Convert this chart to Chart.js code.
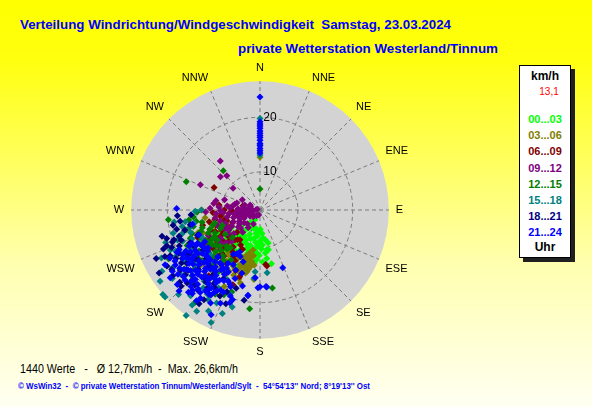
<!DOCTYPE html>
<html>
<head>
<meta charset="utf-8">
<script src="https://cdn.jsdelivr.net/npm/chart.js@4.4.1/dist/chart.umd.min.js"></script>
<style>
  html, body { margin:0; padding:0; }
  body { width:592px; height:407px; overflow:hidden; position:relative;
    background: linear-gradient(to bottom, #ffff00 0%, #ffff10 15%, #ffff60 40%, #ffffb0 65%, #fffff2 100%);
    font-family: "Liberation Sans", Arial, sans-serif; }
  .t { position:absolute; white-space:nowrap; transform-origin: 0 50%; }
  #chartBox { position:absolute; left:60px; top:61px; width:400px; height:298px; }
  #legend { position:absolute; left:519px; top:65px; width:50px; height:191px; background:#fff;
    border:1px solid #000; box-shadow: 4px 4px 0 #202020; }
  #legend div { position:absolute; left:0; width:50px; text-align:center; line-height:14px; height:14px; }
</style>
</head>
<body>
<div class="t" id="title1" data-w="431" style="left:20px; top:17px; font-size:13.3px; font-weight:bold; color:#0000ff; line-height:16px;">Verteilung Windrichtung/Windgeschwindigkeit&nbsp; Samstag, 23.03.2024</div>
<div class="t" id="title2" data-w="260" style="left:238px; top:41px; font-size:13.3px; font-weight:bold; color:#0000ff; line-height:16px;">private Wetterstation Westerland/Tinnum</div>
<div id="chartBox"><canvas id="c"></canvas></div>
<div id="legend"></div>
<div class="t" id="foot1" data-w="218" style="left:20px; top:362px; font-size:12px; color:#000; line-height:14px;">1440 Werte &nbsp; - &nbsp; Ø 12,7km/h &nbsp;- &nbsp;Max. 26,6km/h</div>
<div class="t" id="foot2" data-w="352" style="left:18px; top:381px; font-size:9px; font-weight:bold; color:#0000ff; line-height:11px;">© WsWin32 &nbsp;- &nbsp;© private Wetterstation Tinnum/Westerland/Sylt &nbsp;- &nbsp;54°54'13'' Nord; 8°19'13'' Ost</div>
<script>
// ---------- data ----------
const DIR_LABELS = ['N','NNE','NE','ENE','E','ESE','SE','SSE','S','SSW','SW','WSW','W','WNW','NW','NNW'];
const TICK_VALUES = [10, 20];
const R_MIN = 3.07;
const R_MAX = 26.6;
const SLOT_LABELS = ['00...03','03...06','06...09','09...12','12...15','15...18','18...21','21...24'];
const SLOT_COLORS = ['#00ff00','#808000','#800000','#800080','#008000','#008080','#000080','#0000ff'];

// [direction in degrees, speed in km/h]
const slot00_03 = [[174,8.2],[173,11],[176,9.5],[178,10.2],[172,12],[180,8.8],[183,9.6],[185,10.8],[188,9],[189,11.5],[192,8.4],[195,9.8],[197,10.6],[199,10.4],[200,12.2],[203,7.9],[205,9.1],[207,11.3],[209,6.8],[210,8.6],[212,10.1],[214,12.4],[216,7.6],[217,6.1],[218,9.3],[219,11.6],[220,13.2],[221,12.8],[222,8.2],[223,10.4],[224,14.1],[225,10.8],[226,12],[227,9],[228,13.6],[229,11.1],[230,7.5],[232,12.6],[234,10],[236,13.8],[238,9.2],[240,11.8],[168,13.1],[170,10.4],[177,12.6],[186,12.8],[194,13.5],[202,14.2],[211,13.9],[215,15.2],[213,5.6],[208,5.1],[200,6.6],[190,7.4],[182,7],[166,9.3],[168,10.5],[229,13.4],[233,14.5],
  [181,11.4],[184,12.2],[187,10.1],[191,10.9],[193,11.9],[196,11.3],[198,8.6],[201,9.7],[204,11],[206,12.8],[208,9.9],[211,11.8],[213,8.9],[215,10.9],[217,12.3],[219,8.5],[221,10.1],[223,12.2],[225,9.4],[227,11.5],[170,8.6],[175,7.4],[179,6.6],[186,7.9],[193,6.5]];
const slot03_06 = [[190,10.5],[192,12],[194,11.2],[196,12.9],[198,13.4],[200,13.7],[201,12.3],[193,13.8],[189,12.6],[195,14.5],[197,11.8],[199,15],[191,14.1],[186,13.2],[195,16.9],[197,16.2],[203,14.8],[205,13],[207,15.6],[209,12.4],[211,16.3],[213,14.2],[215,13.1],[217,17.2],[219,15.5],[221,11.9],[223,16.8],[225,14.6],[227,18.1],[229,12.8],[231,15.9],[235,14],[240,17.5],[245,12.2],[250,15.1],[258,9.8],[265,11.4],[270,13.7],[275,8.6],[0,12.7],[185,15.8],[205,18.5],[215,19.4],[191,13.2],[194,12.4],[196,13.6],[192,14.6],[198,12.2],
  [188,11.5],[190,13.7],[193,14.9],[197,13],[199,14.1],[202,15.9],[204,12.2],[206,14.4],[210,13.9],[214,15.6],[218,12.6],[222,14.1],[226,16.1],[230,13.6],[234,17],[238,15.5],[242,13.3],[248,14.3],[255,12.4],[262,13.2]];
const slot06_09 = [[296,12.4],[277,10.6],[265,10],[258,11.5],[252,9.4],[248,12.8],[245,8.6],[242,11],[240,13.6],[238,9.8],[236,12.2],[234,14.4],[232,10.6],[230,11.9],[228,13],[226,8.9],[224,12.5],[222,15.1],[220,10.2],[218,13.8],[216,11.4],[214,9.6],[212,14.6],[210,12.8],[208,16.2],[206,13.4],[204,10.9],[202,15],[197,15.8],[174,13.1],[173,13.4],[250,6.5],[260,7.2],[268,8.1],[255,13.9],[246,15.5],[236,16.8],[228,17.4],[218,18.3],[200,17.6],[284,6.3],
  [229,10.3],[233,12.8],[237,11.3],[241,9.5],[244,12.1],[247,10.3],[251,11.6],[254,9.9],[257,12.6],[261,10.4],[264,8.7],[267,11.7],[270,9.6],[239,14.9],[231,14.2],[225,11.2],[221,13.6],[217,9.9],[213,12.2],[209,10.4]];
const slot09_12 = [[321,14.6],[316,11.8],[310,12.5],[309,9.4],[293,14.9],[282,11.3],[287,7.5],[272,12.2],[274,10.6],[277,9.1],[270,4.5],[275,3.8],[256,5.3],[264,6.7],[243,6.3],[297,5.1],[261,7.8],[274,8.5],[280,6.2],[268,5.6],[262,4.4],[250,5.8],[252,7.2],[246,8.4],[258,9.2],[266,9.8],[255,10.6],[248,11.2],[240,9],[236,7.6],[233,10.3],[230,12.4],[228,9.5],[226,11.7],[238,12.9],[244,13.6],[235,14.5],[242,10.4],[254,8.1],[260,11.4],[286,9.8],[290,4.9],[300,6.8],[268,13],[225,13.3],[222,10.8],[220,14.2],[232,8.1],[245,4.6],[238,5.2],[285,3.6],[278,11.6],[195,4],[210,4.3],[225,4.8],
  [241,7.4],[244,9.9],[247,6.9],[249,9.8],[251,11.3],[253,6.2],[257,7],[259,5.4],[263,8.8],[265,11.1],[267,7.3],[269,10.3],[271,6.1],[273,7.1],[276,5.2],[279,8.1],[283,7.8],[288,6],[234,11.9],[237,9.9],[231,6.8],[227,7.9],[223,6.5],[218,8.2],[214,6.9],[205,5.9]];
const slot12_15 = [[0,6.9],[317,12.9],[291,17.5],[264,19.9],[264,15.3],[262,16.2],[242,22],[171,17.5],[199,18.9],[215,23.6],[220,12.4],[222,14.8],[224,13.3],[226,16.1],[228,12.9],[230,15.2],[232,17.4],[234,13.8],[236,16.5],[238,14.1],[240,12.6],[242,15.8],[244,17.9],[246,13.4],[248,16.8],[250,14.6],[252,12.1],[245,11],[235,10.8],[225,10.2],[218,11.8],[216,14.4],[214,16.6],[212,18.4],[210,13.6],[208,20.5],[205,17.2],[232,20.6],[228,19.3],[238,19.8],[255,17.1],[258,13.9],[186,21.2],[203,19.9],[248,10.5],[268,14.6],
  [219,13.9],[221,16.4],[223,12.1],[225,15.1],[227,14.2],[229,17.1],[231,13.4],[233,15.9],[235,12.6],[237,17.6],[239,13.2],[241,14.4],[243,12.3],[247,15.1],[249,12.9],[251,16.2],[253,14.1],[256,15.6],[260,14.9],[254,11.7],[244,14.9],[236,14.2]];
const slot15_18 = [[229,26.6],[234.5,25.5],[227.5,26.6],[215,26.6],[203.5,25.5],[236.5,22.3],[246,21],[255,19.5],[251,21.3],[242.5,19.7],[215.5,24.4],[210,22],[212,21.2],[184.5,14.4],[173.5,14.6],[0,19.8],[0,15],[0,13.1],[185,15.6],[224,24.5],[220,22.6],[232,23.4],[238,24.2],[244,23.1],[226,20.4],[218,19.6],[222,17.8],[230,18.5],[236,19.9],[240,17.1],[248,18.3],[252,16.4],[258,17.6],[208,19.2],[205,21.8],[200,23.2],[214,17.4],[211,15.9],[234,16.2],[228,15.3],[245,14.8],[262,18.9],[270,13.8],[196,21.5],[241,20.8],[269,14.9],
  [233,18.7],[237,17.3],[241,18.4],[244,20.2],[247,16.6],[250,19.1],[253,18],[256,16.3],[259,15.4],[261,16.9],[231,21.7],[227,18.9],[223,21.4],[219,23.2],[216,20.7],[207,23.8],[212,24.9],[200,19.3],[206,17.1]];
const slot18_21 = [[249,21.3],[255,17.3],[233,21.3],[233,23],[225,21.9],[205,20.4],[197,18],[250,20.1],[252,18.6],[246,19.2],[244,22.4],[240,20.8],[238,18.3],[236,22.5],[234,19.6],[230,20.2],[228,22.8],[226,18.7],[224,20.9],[222,16.9],[220,19.1],[218,21.6],[216,17.8],[214,20.2],[212,22.4],[210,19.5],[208,17.3],[202,19.2],[200,21.3],[258,16.1],[260,19.2],[248,15.4],[242,16.9],[235,15.8],[228,16.3],[222,14.5],[245,24],[238,24.8],[213,23.5],[231,17.6],[190,19.8],[266,18.2],[266,15.7],[262,17.8],
  [236,20.4],[240,18.9],[243,21.5],[245,17.2],[247,20.6],[249,18.5],[251,19.7],[253,20.9],[255,21.6],[257,18.7],[239,22.9],[242,19.9],[248,22.1],[233,17.9],[229,21.1],[226,23.1],[221,21.2],[217,19.5],[212,18.9]];
const slot21_24 = [[0,23.7],[0,19.2],[0,18.8],[0,18.4],[0,18],[0,17.5],[0,17.1],[0,16.7],[0,16.3],[0,15.8],[0,15.2],[0,14.8],[0,14.3],[0,13.9],[0,13.5],
  [158.5,14.4],[175.5,17.1],[181.5,17.3],[188,18.9],[184,15.5],[175,17.2],[180,17.1],
  [271,18.3],[221,23],[211,21.1],[198,20.9],[197,20.2],[188,18.8],[199,19.7],
  [200,16.4],[201,18.1],[202,14.9],[203,21.6],[204,17.3],[206,19.4],[207,15.8],[208,22.3],[210,17.9],[211,14.4],[212,19.8],[213,16.1],[214,20.9],[216,18.5],[217,15.2],[218,21.4],[220,17.2],[221,19.3],[222,14.6],[223,20.4],[224,16.7],[225,18.9],[227,21.8],[228,15.9],[229,19.9],[230,17.6],[232,20.7],[233,16.3],[234,18.4],[235,22.6],[236,15.4],[237,19.1],[238,17],[239,21.2],[240,14.7],[241,18.6],[242,16],[243,20.1],[248,15.1],
  [208,12.1],[215,23.3],[225,24],[233,23.6],[240,23.1],[205,24.2],[220,22.2],[228,23.4],[213,18.1],[219,16.8],[226,16.2],[231,18.8],[235,17.8],[239,15.6],[244,16.9],[210,15.3],[216,16.9],[222,18.2],[234,14.8],[206,11.6],[203,12.3],[258,15.7],[215,19.5],[224,21.1],[232,22.1],[211,12.5],[198,13],[196,15.1],[193,17.3],
  [206,14.2],[207,17.6],[208,19.8],[209,16.5],[210,21],[211,18.6],[212,15.7],[213,20.5],[214,17.5],[215,15.3],[216,21.7],[217,19],[218,16.3],[219,18.7],[220,20.8],[221,15.6],[222,21.9],[223,17.7],[224,19.4],[225,15.9],[226,20.2],[227,17.1],[228,18.1],[229,21.6],[230,16],[231,20.3],[232,15.2],[233,19.3],[234,21.2],[235,16.9],[236,18.8],[237,21.5],[238,19.8],[239,17.9],[240,19.4],[241,16.4],[242,21.7],[243,17.6],[244,19.5],[209,20.3],[214,22.5],[219,22.7],[227,19.2],[204,19.5],[202,17.7]];
const SLOT_DATA = [slot00_03, slot03_06, slot06_09, slot09_12, slot12_15, slot15_18, slot18_21, slot21_24];

// ---------- build ----------
const STEPS = 720; // half-degree resolution
const labels = [];
for (let i = 0; i < STEPS; i++) labels.push(i % (STEPS / 16) === 0 ? DIR_LABELS[i / (STEPS / 16)] : '');
function dirIndex(d) { return Math.round((((d % 360) + 360) % 360) * STEPS / 360) % STEPS; }

const datasets = [];
SLOT_DATA.forEach((pts, si) => {
  const layers = [];
  pts.forEach(([d, v]) => {
    const i = dirIndex(d);
    let layer = layers.find(l => l[i] === null);
    if (!layer) { layer = new Array(STEPS).fill(null); layers.push(layer); }
    layer[i] = v;
  });
  layers.forEach(l => datasets.push({
    label: SLOT_LABELS[si], data: l, order: SLOT_DATA.length - 1 - si,
    showLine: false, fill: false, borderWidth: 0,
    pointStyle: 'rectRot', pointRadius: 3.5, pointBorderWidth: 0,
    pointBackgroundColor: SLOT_COLORS[si], pointBorderColor: SLOT_COLORS[si],
    backgroundColor: SLOT_COLORS[si], borderColor: SLOT_COLORS[si]
  }));
});

// legend box (HTML)
const lg = document.getElementById('legend');
function addLg(text, cy, color, weight, size) {
  const d = document.createElement('div');
  d.textContent = text; d.style.top = (cy - 65 - 7) + 'px'; d.style.color = color;
  d.style.fontWeight = weight; d.style.fontSize = size + 'px';
  lg.appendChild(d);
}
addLg('km/h', 75, '#000', 'bold', 12);
const lgRed = document.createElement('div');
lgRed.textContent = '13,1'; lgRed.style.top = (91 - 72) + 'px'; lgRed.style.color = '#ff0000';
lgRed.style.fontSize = '10px'; lgRed.style.left = '4px';
lg.appendChild(lgRed);
const LG_Y = [118, 134, 150, 166.5, 183, 199, 215, 231];
SLOT_LABELS.forEach((t, i) => addLg(t, LG_Y[i], SLOT_COLORS[i], 'bold', 11));
addLg('Uhr', 246, '#000', 'bold', 12);

// fit text widths
document.querySelectorAll('.t[data-w]').forEach(el => {
  const w = el.getBoundingClientRect().width;
  const target = parseFloat(el.dataset.w);
  if (w > 0) el.style.transform = 'scaleX(' + (target / w) + ')';
});

const FONT = '"Liberation Sans", Arial, sans-serif';
new Chart(document.getElementById('c'), {
  type: 'radar',
  data: { labels, datasets },
  options: {
    responsive: true, maintainAspectRatio: false, animation: false, events: [],
    plugins: { legend: { display: false }, tooltip: { enabled: false } },
    scales: {
      r: {
        min: R_MIN, max: R_MAX, startAngle: 0,
        backgroundColor: '#d3d3d3',
        grid: { circular: true, color: '#7a7a7a', lineWidth: 1 },
        border: { dash: [4, 3] },
        angleLines: { color: '#7a7a7a', borderDash: [4, 3], lineWidth: c => (c.index % (STEPS / 16) === 0 ? 1 : 0) },
        pointLabels: { font: { family: FONT, size: 11 }, color: '#000', padding: -1 },
        ticks: {
          showLabelBackdrop: false, color: '#000', font: { family: FONT, size: 12 },
          callback: v => (TICK_VALUES.includes(v) ? '      ' + v : '')
        },
        afterBuildTicks: s => { s.ticks = [R_MIN, ...TICK_VALUES].map(v => ({ value: v })); }
      }
    }
  }
});
</script>
</body>
</html>
